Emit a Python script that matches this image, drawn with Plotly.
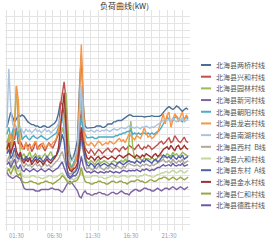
import plotly.graph_objects as go

title_text = "负荷曲线(kW)"
x_idx = list(range(96))
tick_pos = [5, 25, 45, 65, 85]
tick_labels = ["01:30", "06:30", "11:30", "16:30", "21:30"]

names = ["北海县两桥村线", "北海县兴和村线", "北海县园林村线", "北海县新河村线",
         "北海县朝阳村线", "北海县龙岩村线", "北海县南湖村线", "北海县西村  B线",
         "北海县六和村线", "北海县东村  A线", "北海县金水村线", "北海县仁和村线",
         "北海县德胜村线"]
colors = ["#4a6f95", "#c0504d", "#9bbb59", "#8064a2", "#4bacc6", "#f79646", "#a9c4e0",
          "#b0a89a", "#c3d69b", "#4f5fa8", "#a0302f", "#9aa646", "#6a5aa8"]

s1 = [150,160,172,165,158,162,168,166,
      168,166,162,158,156,154,154,152,152,150,150,152,152,150,150,152,154,156,160,170,186,184,
      168,148,128,112,102,108,118,132,
      205,255,185,152,
      149,149,150,150,150,152,152,152,150,150,152,155,155,155,158,158,160,160,160,162,164,166,168,168,
      166,166,166,167,166,166,165,166,166,166,167,166,166,165,166,168,172,175,
      178,180,178,176,178,181,179,176,173,176,178,176]
s2 = [128,135,122,140,132,150,126,130,
      124,118,128,122,126,115,120,130,118,124,126,120,116,122,128,124,120,126,132,140,180,200,
      216,190,120,92,88,95,100,110,
      150,175,140,120,
      116,112,118,115,110,114,118,116,112,115,118,120,116,114,118,120,118,115,120,122,118,120,124,122,
      120,118,122,125,120,118,122,120,124,122,118,120,122,125,128,130,126,128,
      132,135,128,130,138,134,130,128,132,136,130,128]
s3 = [120,140,110,130,160,210,150,115,
      108,112,104,110,115,105,108,112,106,110,104,108,112,106,110,115,108,104,110,120,130,150,
      140,200,150,100,92,98,105,120,
      170,190,140,110,
      100,98,102,100,96,100,104,98,100,102,100,98,96,100,102,100,98,100,102,100,104,100,130,159,
      120,105,104,106,104,102,106,104,105,103,106,104,102,106,108,110,106,108,
      112,110,108,114,110,112,108,110,114,112,110,108]
s4 = [85,80,78,76,78,80,78,76,
      70,62,60,60,60,60,60,58,58,58,60,60,60,60,60,62,62,60,60,60,58,56,
      60,65,70,72,70,66,62,58,
      50,48,55,58,
      54,54,52,52,54,54,56,56,54,54,52,52,54,56,56,54,54,56,58,56,54,54,52,56,
      58,60,60,58,58,60,62,62,60,60,58,58,60,62,60,58,60,62,
      62,60,62,64,62,60,62,64,62,60,62,64]
s5 = [140,150,135,145,155,142,136,150,
      132,136,138,134,132,136,138,135,134,136,138,136,134,132,134,136,138,140,142,150,160,165,
      150,120,100,95,92,98,105,115,
      150,165,145,140,
      135,135,136,136,134,134,136,136,135,135,136,136,135,135,136,138,138,140,140,142,142,144,144,146,
      140,142,140,142,140,142,142,140,142,140,142,140,142,144,146,150,156,160,
      165,162,158,160,164,166,162,160,158,162,165,162]
s6 = [115,125,140,120,150,210,190,125,
      118,122,128,116,124,120,126,130,122,118,124,128,120,124,126,122,128,130,135,145,160,175,
      160,130,96,92,90,94,100,115,
      200,270,190,130,
      125,124,128,126,122,126,130,128,124,126,128,126,130,128,126,128,132,134,130,132,128,134,140,138,
      135,132,138,136,134,140,150,142,136,138,134,136,140,142,150,160,170,155,
      168,172,150,160,170,165,158,166,172,160,168,164]
s7 = [150,235,180,155,148,152,146,150,
      145,142,148,144,146,142,145,148,144,146,142,145,148,144,146,142,145,148,150,155,165,170,
      155,125,108,100,102,106,110,120,
      175,210,160,145,
      145,144,146,145,143,146,145,144,146,145,147,145,144,146,148,147,146,148,150,149,148,150,152,151,
      150,149,151,150,148,151,150,152,150,149,151,150,152,154,156,158,160,162,
      160,162,158,164,160,158,162,160,164,158,160,162]
s8 = [100,108,96,104,112,98,102,106,
      96,92,98,94,96,92,95,98,94,96,92,95,98,94,96,92,95,98,100,104,110,115,
      105,95,85,82,84,86,88,92,
      110,130,115,100,
      90,92,90,88,92,90,94,92,90,88,92,90,94,92,90,92,94,92,90,94,92,96,98,96,
      95,94,96,95,93,96,95,97,95,94,96,95,97,98,100,102,104,100,
      100,102,98,104,100,98,102,100,104,98,100,102]
s9 = [92,88,90,94,88,90,86,88,
      80,78,78,78,78,80,80,78,78,78,76,76,78,78,80,80,78,78,78,80,82,84,
      80,76,72,74,76,74,76,78,
      80,84,80,78,
      78,78,78,80,80,80,78,78,78,76,76,78,78,80,80,78,78,78,80,80,80,78,78,80,
      80,80,78,78,80,80,82,82,80,80,78,78,80,82,82,84,84,86,
      86,84,86,88,86,84,86,88,86,84,86,88]
s10 = [112,118,105,110,120,108,104,110,
       106,102,108,104,106,100,104,108,102,106,104,100,104,108,104,102,106,108,110,115,125,140,
       130,100,82,78,80,84,86,92,
       120,140,120,105,
       96,94,98,96,92,96,98,94,96,98,96,94,96,98,96,94,98,100,98,96,98,100,102,100,
       100,98,102,100,98,102,100,104,102,100,98,102,104,100,102,106,110,108,
       106,108,104,110,106,104,108,106,110,104,106,108]
s11 = [118,128,112,120,130,116,108,114,
       102,98,104,100,106,96,100,104,98,102,100,96,100,104,100,98,102,106,110,120,150,180,
       200,150,95,88,86,90,92,98,
       130,150,130,115,
       106,104,108,106,102,106,108,104,106,108,106,104,106,108,106,104,108,110,108,106,108,110,112,110,
       108,106,110,108,106,110,108,112,110,108,106,110,112,108,110,114,118,120,
       122,118,124,120,116,122,124,118,120,124,120,118]
s12 = [86,90,82,88,95,84,80,84,
       72,70,70,70,72,72,70,70,68,68,70,70,72,72,70,70,68,70,72,74,76,80,
       78,74,70,68,70,72,72,74,
       80,92,80,72,
       70,70,68,68,70,70,72,72,70,70,68,68,70,72,72,70,70,72,72,70,70,68,70,72,
       72,72,74,74,72,72,70,70,72,74,74,72,72,74,76,76,78,78,
       76,74,76,78,76,74,76,78,76,74,76,78]
s13 = [96,100,92,98,104,94,90,96,
       88,86,90,88,86,88,90,88,86,88,90,88,86,88,90,88,86,88,90,92,96,100,
       92,86,78,76,78,80,80,84,
       92,108,95,88,
       85,86,84,85,87,85,84,86,85,84,86,85,87,85,84,86,85,84,86,88,87,86,88,87,
       88,87,89,88,86,89,88,90,88,87,89,88,90,92,92,94,96,94,
       95,96,94,98,95,94,96,95,98,94,95,96]

series = [s1, s2, s3, s4, s5, s6, s7, s8, s9, s10, s11, s12, s13]

W, H = 268, 245
ML, MR, MT, MB = 5, 78, 10, 10
PW, PH = W - ML - MR, H - MT - MB

def px_to_paper_x(px):
    return (px - ML) / PW

def px_to_paper_y(py):
    return (H - MB - py) / PH

fig = go.Figure()
for nm, col, ys in zip(names, colors, series):
    fig.add_trace(go.Scatter(x=x_idx, y=ys, mode="lines", name=nm,
                             line=dict(color=col, width=1.4), showlegend=False))

# compact legend drawn at the right (line swatch + label)
shapes, annos = [], []
for k, (nm, col) in enumerate(zip(names, colors)):
    py = 66 + 11.9 * k
    yy = px_to_paper_y(py)
    shapes.append(dict(type="line", xref="paper", yref="paper",
                       x0=px_to_paper_x(201), x1=px_to_paper_x(211), y0=yy, y1=yy,
                       line=dict(color=col, width=2)))
    annos.append(dict(xref="paper", yref="paper", x=px_to_paper_x(214), y=yy,
                      xanchor="left", yanchor="middle", text=nm, showarrow=False,
                      font=dict(size=7, color="#555555", family="Noto Sans CJK SC")))

# title as paper annotation placed fully inside the canvas
annos.append(dict(xref="paper", yref="paper", x=px_to_paper_x(124), y=px_to_paper_y(5),
                  xanchor="center", yanchor="middle", text=title_text, showarrow=False,
                  font=dict(size=8, color="#333333", family="Noto Sans CJK SC")))

grid = "#e4e4e4"
fig.update_layout(
    width=W, height=H,
    margin=dict(l=ML, r=MR, t=MT, b=MB),
    paper_bgcolor="white", plot_bgcolor="white",
    font=dict(family="Noto Sans CJK SC", size=7, color="#555555"),
    showlegend=False,
    shapes=shapes, annotations=annos,
)
fig.update_xaxes(range=[-1, 96], tickmode="array", tickvals=tick_pos, ticktext=tick_labels,
                 showgrid=False, zeroline=False, showline=False, ticks="",
                 tickfont=dict(size=6, color="#999999"),
                 minor=dict(tickmode="linear", tick0=0, dtick=4, showgrid=True, gridcolor=grid, gridwidth=1))
fig.update_yaxes(range=[0, 320], dtick=10, showgrid=True, gridcolor=grid, gridwidth=1,
                 showticklabels=False, zeroline=False, showline=False, ticks="")

fig.write_html("out.html", config={"displayModeBar": False},
               post_script="document.body.style.margin='0';document.body.style.overflow='hidden';")
